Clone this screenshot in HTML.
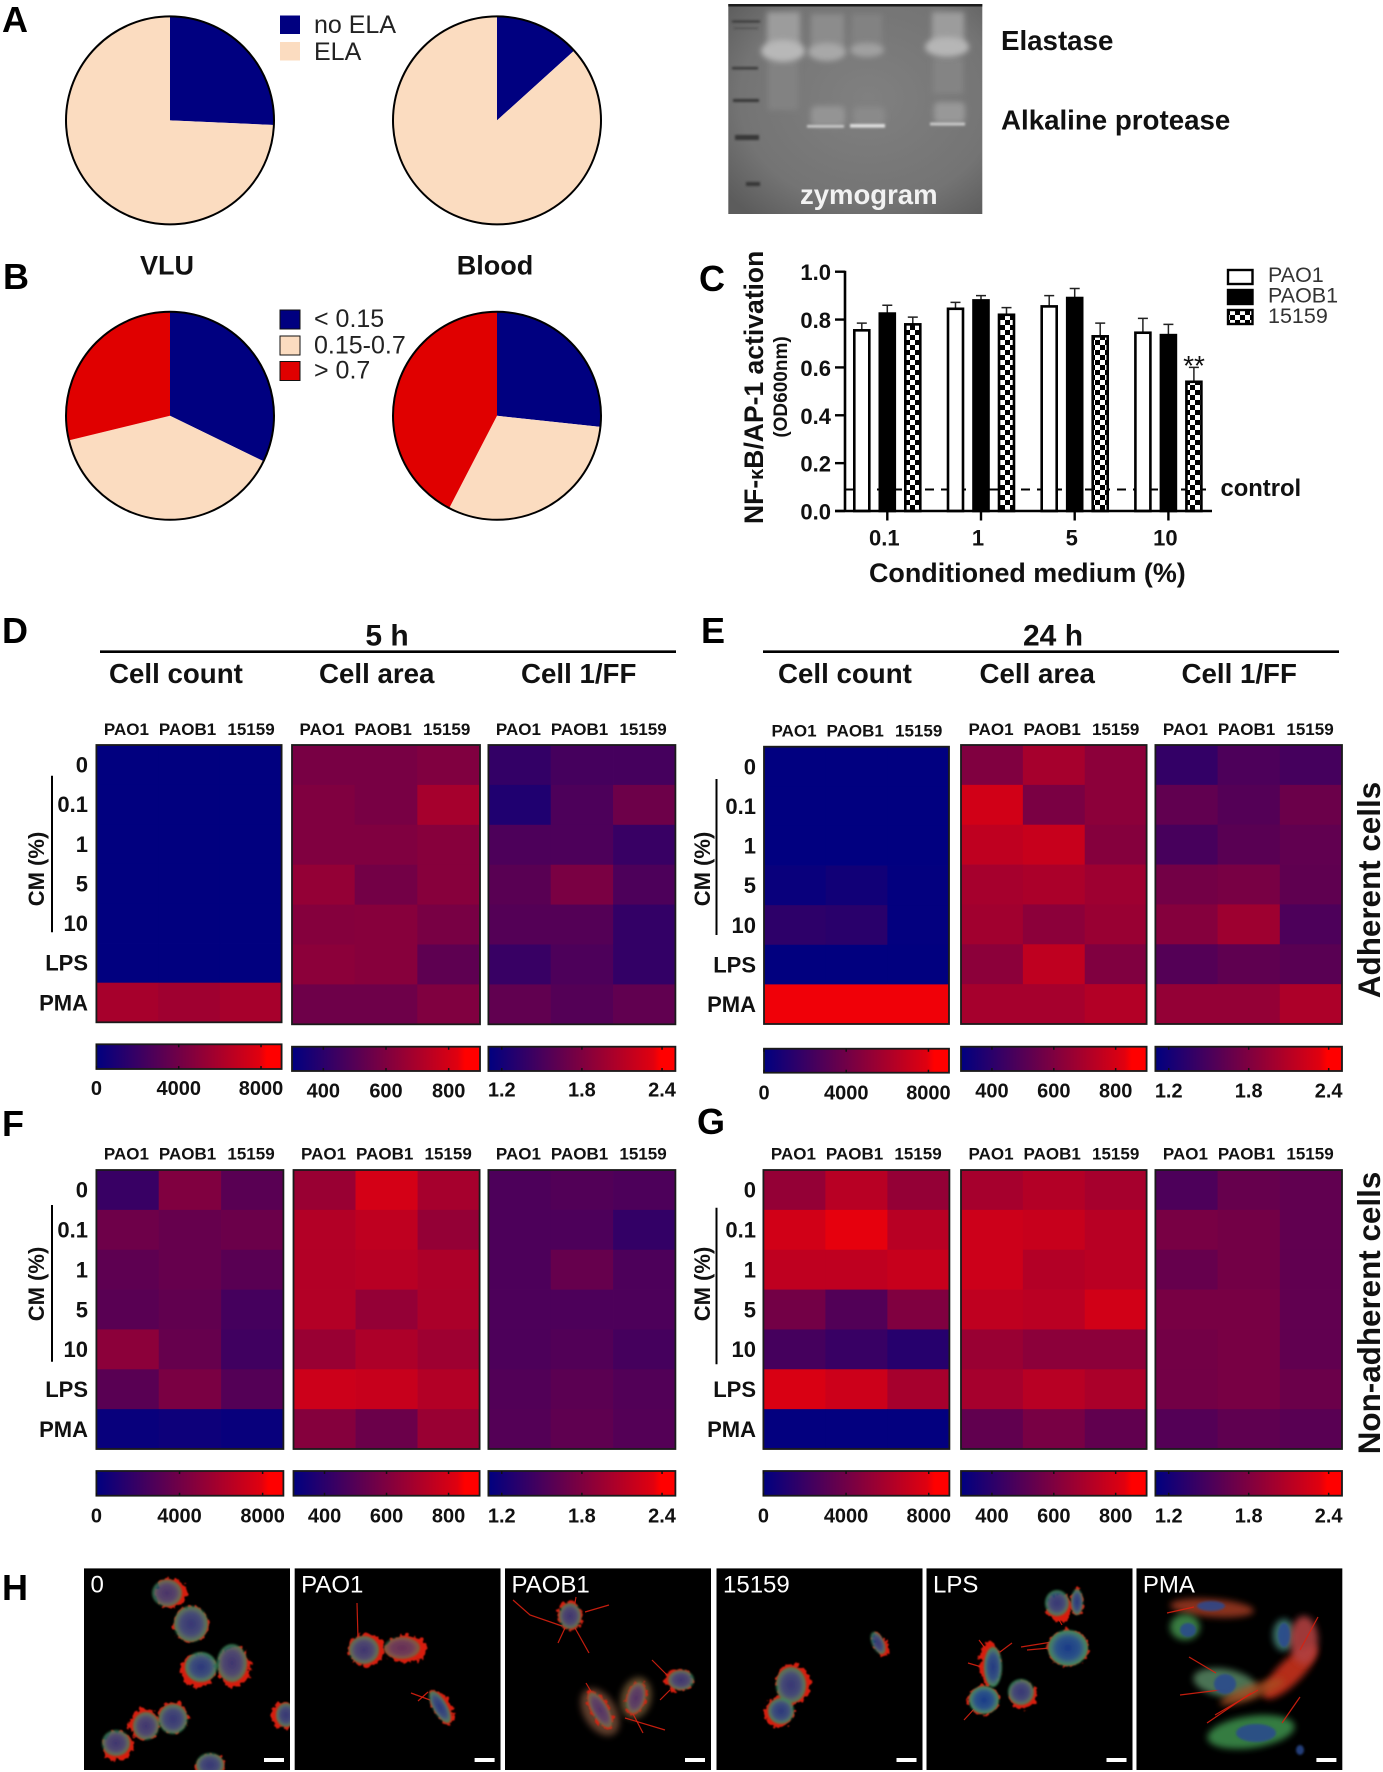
<!DOCTYPE html>
<html lang="en">
<head>
<meta charset="utf-8">
<title>Multi-panel figure: elastase, NF-κB activation, heatmaps and microscopy</title>
<style>
html,body{margin:0;padding:0;background:#fff}
svg{display:block}
text{font-family:"Liberation Sans",Arial,sans-serif;fill:#111}
.b{font-weight:bold}
.letter{font-weight:bold;font-size:36px;fill:#000}
.head{font-weight:bold;font-size:27.7px;fill:#111}
.leg{font-size:25px;fill:#222}
</style>
</head>
<body>
<svg id="fig" xmlns="http://www.w3.org/2000/svg" width="1383" height="1772" viewBox="0 0 1383 1772">
<defs>
  <pattern id="checker" width="10" height="10" patternUnits="userSpaceOnUse">
    <rect width="10" height="10" fill="#000"/>
    <rect width="5" height="5" fill="#fff"/>
    <rect x="5" y="5" width="5" height="5" fill="#fff"/>
  </pattern>
  <linearGradient id="cmap">
    <stop offset="0" stop-color="#000080"/>
    <stop offset="0.5" stop-color="#7f0040"/>
    <stop offset="0.88" stop-color="#e0000f"/>
    <stop offset="0.92" stop-color="#ff0000"/>
    <stop offset="1" stop-color="#ff0000"/>
  </linearGradient>
  <radialGradient id="gelVignette" cx="55%" cy="45%" r="72%">
    <stop offset="0" stop-color="#808080"/>
    <stop offset="0.7" stop-color="#747474"/>
    <stop offset="1" stop-color="#5c5c5c"/>
  </radialGradient>
  <radialGradient id="cellBody">
    <stop offset="0" stop-color="#1a3a88"/>
    <stop offset="0.6" stop-color="#2c5488"/>
    <stop offset="0.84" stop-color="#45786e"/>
    <stop offset="1" stop-color="#3a8f50"/>
  </radialGradient>
  <filter id="blur6" x="-50%" y="-50%" width="200%" height="200%"><feGaussianBlur stdDeviation="5"/></filter>
  <filter id="blur3" x="-50%" y="-50%" width="200%" height="200%"><feGaussianBlur stdDeviation="3"/></filter>
  <filter id="blur1" x="-20%" y="-300%" width="140%" height="700%"><feGaussianBlur stdDeviation="1.1"/></filter>
  <filter id="soft" x="-30%" y="-30%" width="160%" height="160%"><feGaussianBlur stdDeviation="1"/></filter>
  <filter id="diffuse" x="-50%" y="-80%" width="200%" height="260%"><feGaussianBlur stdDeviation="3.5"/></filter>
  <filter id="rough" x="-60%" y="-60%" width="220%" height="220%">
    <feTurbulence type="fractalNoise" baseFrequency="0.2" numOctaves="2" seed="4" result="n"/>
    <feDisplacementMap in="SourceGraphic" in2="n" scale="10" xChannelSelector="R" yChannelSelector="G"/>
    <feGaussianBlur stdDeviation="0.7"/>
  </filter>
</defs>
<rect width="1383" height="1772" fill="#fff"/>

<text class="letter" x="2" y="32">A</text>
<text class="letter" x="3" y="289">B</text>
<text class="letter" x="699" y="291">C</text>
<text class="letter" x="2" y="643">D</text>
<text class="letter" x="701" y="643">E</text>
<text class="letter" x="2" y="1136">F</text>
<text class="letter" x="697" y="1134">G</text>
<text class="letter" x="2" y="1600">H</text>

<g>
  <rect x="280" y="15.5" width="20" height="18.5" fill="#000080"/>
  <rect x="280" y="42" width="20" height="18.5" fill="#fbdcc0"/>
  <text class="leg" x="314" y="33">no ELA</text>
  <text class="leg" x="314" y="60">ELA</text>
</g>
<g>
  <rect x="280" y="310" width="20" height="19" fill="#000080" stroke="#111" stroke-width="1"/>
  <rect x="280" y="336" width="20" height="19" fill="#fbdcc0" stroke="#111" stroke-width="1"/>
  <rect x="280" y="361.5" width="20" height="19" fill="#e00000" stroke="#111" stroke-width="1"/>
  <text class="leg" x="314" y="327">&lt; 0.15</text>
  <text class="leg" x="314" y="353.5">0.15-0.7</text>
  <text class="leg" x="314" y="378.5">&gt; 0.7</text>
</g>
<text class="b" font-size="27" x="167" y="274.5" text-anchor="middle">VLU</text>
<text class="b" font-size="27" x="495" y="274.5" text-anchor="middle">Blood</text>

<g id="pies"></g>

<g>
  <rect x="728.3" y="4" width="254" height="210" fill="url(#gelVignette)"/>
  <rect x="728.3" y="4" width="254" height="2.5" fill="#1c1c1c"/>
  <rect x="767" y="12" width="33" height="36" fill="#9c9c9c" filter="url(#blur3)"/>
  <rect x="811" y="14" width="33" height="36" fill="#8c8c8c" filter="url(#blur3)"/>
  <rect x="852" y="14" width="30" height="36" fill="#828282" filter="url(#blur3)"/>
  <rect x="932" y="12" width="32" height="34" fill="#9c9c9c" filter="url(#blur3)"/>
  <rect x="768" y="60" width="30" height="50" fill="#828282" filter="url(#blur3)"/>
  <rect x="933" y="58" width="30" height="36" fill="#848484" filter="url(#blur3)"/>
  <ellipse cx="783" cy="51" rx="22" ry="11" fill="#b8b8b8" filter="url(#blur3)"/>
  <ellipse cx="827" cy="52" rx="19" ry="9" fill="#a8a8a8" filter="url(#blur3)"/>
  <ellipse cx="867" cy="50" rx="17" ry="7" fill="#a0a0a0" filter="url(#blur3)"/>
  <ellipse cx="947" cy="47" rx="22" ry="10" fill="#b6b6b6" filter="url(#blur3)"/>
  <rect x="811" y="106" width="34" height="20" rx="5" fill="#949494" filter="url(#blur3)"/>
  <rect x="853" y="107" width="32" height="18" rx="5" fill="#8a8a8a" filter="url(#blur3)"/>
  <rect x="934" y="102" width="31" height="21" rx="5" fill="#989898" filter="url(#blur3)"/>
  <rect x="807" y="125" width="37" height="2.6" fill="#cccccc" filter="url(#blur1)"/>
  <rect x="850" y="124" width="35" height="3.6" fill="#dedede" filter="url(#blur1)"/>
  <rect x="930" y="122.5" width="35" height="3" fill="#c8c8c8" filter="url(#blur1)"/>
  <g fill="#383838" filter="url(#blur1)">
    <rect x="732" y="20.5" width="28" height="2"/>
    <rect x="734" y="27.5" width="24" height="1.5" opacity=".5"/>
    <rect x="732" y="67" width="26" height="2.4"/>
    <rect x="733" y="99" width="26" height="3"/>
    <rect x="735" y="135" width="24" height="5"/>
    <rect x="746" y="182" width="14" height="4"/>
  </g>
  <text class="b" font-size="27.5" x="800" y="204" style="fill:#f2f2f2">zymogram</text>
</g>
<text class="head" x="1001" y="50">Elastase</text>
<text class="head" x="1001" y="129.5">Alkaline protease</text>

<g id="barchart">
  <text class="b" font-size="26.5" transform="translate(763,524) rotate(-90)">NF-<tspan font-size="20">κ</tspan>B/AP-1 activation</text>
  <text class="b" font-size="19" text-anchor="middle" transform="translate(787,387) rotate(-90)">(OD600nm)</text>
  <text class="b" font-size="26.9" x="869" y="582">Conditioned medium (%)</text>
  <text class="b" font-size="23.8" x="1220.5" y="496">control</text>
  <text font-size="28" x="1194" y="375" text-anchor="middle">**</text>
</g>

<line x1="100" x2="676" y1="651.7" y2="651.7" stroke="#000" stroke-width="2.6"/>
<line x1="763" x2="1339" y1="651.7" y2="651.7" stroke="#000" stroke-width="2.6"/>
<text class="b" font-size="30" x="387" y="645.5" text-anchor="middle">5 h</text>
<text class="b" font-size="30" x="1053" y="645.5" text-anchor="middle">24 h</text>
<text class="head" x="109" y="683">Cell count</text>
<text class="head" x="319" y="683">Cell area</text>
<text class="head" x="521" y="683">Cell 1/FF</text>
<text class="head" x="778" y="683">Cell count</text>
<text class="head" x="979.5" y="683">Cell area</text>
<text class="head" x="1181.5" y="683">Cell 1/FF</text>
<text class="b" font-size="31.4" text-anchor="middle" transform="translate(1380,890) rotate(-90)">Adherent cells</text>
<text class="b" font-size="31.4" text-anchor="middle" transform="translate(1380,1313) rotate(-90)">Non-adherent cells</text>

<g id="heatmaps"></g>
<g id="micro"></g>

<script>
var NS = 'http://www.w3.org/2000/svg';

/* ---------- pie data (percent) ---------- */
var pieElaVlu = [25.7, 74.3];
var pieElaBlood = [13.3, 86.7];
var pieRatioVlu = [32.2, 39, 28.8];
var pieRatioBlood = [26.7, 30.9, 42.4];

/* ---------- bar chart data ---------- */
var barCategories = ['0.1', '1', '5', '10'];
var barSeriesNames = ['PAO1', 'PAOB1', '15159'];
var barPAO1 = [0.755, 0.845, 0.855, 0.745];
var barPAOB1 = [0.825, 0.88, 0.89, 0.735];
var bar15159 = [0.78, 0.82, 0.73, 0.54];
var errPAO1 = [0.03, 0.027, 0.045, 0.06];
var errPAOB1 = [0.035, 0.02, 0.04, 0.045];
var err15159 = [0.03, 0.03, 0.055, 0.06];
var barTicks = ['0.0', '0.2', '0.4', '0.6', '0.8', '1.0'];
var controlLevel = 0.09;

/* ---------- heatmap data ---------- */
var rowLabels = ['0', '0.1', '1', '5', '10', 'LPS', 'PMA'];
var columnLabels = ['PAO1', 'PAOB1', '15159'];
var countDomain = [0, 9000];
var areaDomain = [300, 900];
var ffDomain = [1.1, 2.5];
var countTicks = [0, 4000, 8000];
var areaTicks = [400, 600, 800];
var ffTicks = ['1.2', '1.8', '2.4'];

var countAdh5h = [[50,50,50],[50,50,50],[50,50,50],[50,50,50],[50,50,50],[50,50,50],[5900,5600,5900]];
var areaAdh5h = [[582,582,600],[600,582,690],[600,600,618],[648,570,618],[612,618,582],[630,618,522],[558,558,600]];
var ffAdh5h = [[1.38,1.48,1.48],[1.27,1.52,1.70],[1.52,1.52,1.41],[1.59,1.77,1.52],[1.56,1.56,1.38],[1.41,1.52,1.38],[1.63,1.56,1.63]];

var countAdh24h = [[30,30,30],[30,30,30],[30,30,30],[300,600,100],[1600,1450,100],[50,50,50],[8460,8460,8460]];
var areaAdh24h = [[600,690,630],[792,588,630],[750,768,612],[690,702,672],[678,630,660],[630,750,600],[690,690,720]];
var ffAdh24h = [[1.38,1.52,1.48],[1.63,1.56,1.69],[1.49,1.59,1.63],[1.73,1.76,1.62],[1.83,1.97,1.52],[1.56,1.62,1.59],[1.91,1.91,2.05]];

var countNon5h = [[1980,4500,3150],[3870,3600,3780],[3330,3600,3150],[3150,3420,2430],[4950,3600,2250],[3150,4320,2970],[270,450,270]];
var areaNon5h = [[660,798,690],[720,750,648],[720,732,708],[720,648,702],[660,708,672],[780,768,720],[612,552,660]];
var ffNon5h = [[1.52,1.55,1.52],[1.52,1.52,1.38],[1.52,1.66,1.52],[1.52,1.52,1.52],[1.52,1.55,1.48],[1.55,1.60,1.55],[1.56,1.62,1.56]];

var countNon24h = [[5220,6480,5220],[7380,8100,6480],[6750,6750,7020],[4050,2880,4500],[2430,1980,1350],[7650,7200,5850],[90,90,90]];
var areaNon24h = [[690,720,690],[780,768,732],[780,720,738],[750,738,792],[660,630,630],[690,732,702],[528,582,528]];
var ffNon24h = [[1.52,1.66,1.63],[1.76,1.73,1.63],[1.66,1.73,1.63],[1.76,1.76,1.63],[1.73,1.76,1.63],[1.73,1.76,1.69],[1.56,1.62,1.59]];

/* ---------- helpers ---------- */
function mk(tag, attrs, parent) {
  var e = document.createElementNS(NS, tag);
  for (var k in attrs) e.setAttribute(k, attrs[k]);
  parent.appendChild(e);
  return e;
}

/* ---------- pies ---------- */
function drawPie(parent, name, cx, cy, r, values, colors) {
  var total = values.reduce(function (a, b) { return a + b; }, 0);
  var a0 = 0;
  values.forEach(function (v, i) {
    var a1 = a0 + v / total * 2 * Math.PI;
    var large = (a1 - a0) > Math.PI ? 1 : 0;
    var d = 'M' + cx + ' ' + cy +
      'L' + (cx + r * Math.sin(a0)) + ' ' + (cy - r * Math.cos(a0)) +
      'A' + r + ' ' + r + ' 0 ' + large + ' 1 ' + (cx + r * Math.sin(a1)) + ' ' + (cy - r * Math.cos(a1)) + 'Z';
    var s = mk('path', { d: d, fill: colors[i] }, parent);
    
    
    a0 = a1;
  });
  var o = mk('circle', { cx: cx, cy: cy, r: r, fill: 'none', stroke: '#000', 'stroke-width': 2 }, parent);
  
  
}
var piesG = document.getElementById('pies');
var cNavy = '#000080', cPeach = '#fbdcc0', cRed = '#e00000';
drawPie(piesG, 'pie-ela-vlu', 170, 120.4, 104, pieElaVlu, [cNavy, cPeach]);
drawPie(piesG, 'pie-ela-blood', 497, 120.4, 104, pieElaBlood, [cNavy, cPeach]);
drawPie(piesG, 'pie-ratio-vlu', 170, 415.8, 104, pieRatioVlu, [cNavy, cPeach, cRed]);
drawPie(piesG, 'pie-ratio-blood', 497, 415.8, 104, pieRatioBlood, [cNavy, cPeach, cRed]);

/* ---------- bar chart ---------- */
(function () {
  var g = document.getElementById('barchart');
  var yScale = function (v) { return 511 - v * 239.3; };
  var xGroup = function (i) { return 887.3 + i * 93.7; };
  var offset = 25.5, barW = 15;
  var series = [
    { name: 'pao1', vals: barPAO1, errs: errPAO1, fill: '#fff' },
    { name: 'paob1', vals: barPAOB1, errs: errPAOB1, fill: '#000' },
    { name: '15159', vals: bar15159, errs: err15159, fill: 'url(#checker)' }
  ];
  var dash = mk('line', { x1: 845, x2: 1206, y1: yScale(controlLevel), y2: yScale(controlLevel), stroke: '#000', 'stroke-width': 2, 'stroke-dasharray': '9 7' }, g);
  
  

  series.forEach(function (s, si) {
    s.vals.forEach(function (v, i) {
      var cx = xGroup(i) + (si - 1) * offset;
      var err = mk('path', {
        d: 'M' + cx + ' ' + yScale(v) + 'V' + yScale(v + s.errs[i]) + 'm-5 0h10',
        fill: 'none', stroke: '#222', 'stroke-width': 1.5
      }, g);
      
      
      var bar = mk('rect', {
        x: cx - barW / 2, y: yScale(v), width: barW, height: yScale(0) - yScale(v),
        fill: s.fill, stroke: '#000', 'stroke-width': 2.6
      }, g);
      
      
    });
  });

  var yAxis = mk('line', { x1: 845, x2: 845, y1: yScale(1) - 1, y2: yScale(0) + 1, stroke: '#000', 'stroke-width': 2.6 }, g);
  
  
  var xAxis = mk('line', { x1: 835, x2: 1212, y1: yScale(0), y2: yScale(0), stroke: '#000', 'stroke-width': 2.6 }, g);
  
  

  barTicks.forEach(function (t) {
    var v = parseFloat(t);
    var tk = mk('line', { x1: 835, x2: 845, y1: yScale(v), y2: yScale(v), stroke: '#000', 'stroke-width': 2.4 }, g);
    
    
    var lb = mk('text', { x: 831, y: yScale(v) + 8.5, 'text-anchor': 'end', 'font-size': 22, 'font-weight': 'bold' }, g);
    lb.textContent = t;
    
    
  });
  barCategories.forEach(function (c, i) {
    var tk = mk('line', { x1: xGroup(i), x2: xGroup(i), y1: 511, y2: 520.5, stroke: '#000', 'stroke-width': 2.4 }, g);
    
    
    var lb = mk('text', { x: xGroup(i) - 3, y: 545.5, 'text-anchor': 'middle', 'font-size': 22, 'font-weight': 'bold' }, g);
    lb.textContent = c;
    
    
  });

  var legFills = ['#fff', '#000', 'url(#checker)'];
  barSeriesNames.forEach(function (n, i) {
    var sw = mk('rect', { x: 1228, y: 270 + i * 20, width: 24.5, height: 14, fill: legFills[i], stroke: '#000', 'stroke-width': 2.4 }, g);
    
    
    var lb = mk('text', { x: 1268, y: 282 + i * 20.4, 'font-size': 21.5 }, g);
    lb.textContent = n;
    
    
    lb.style.fill = '#333';
  });
})();

/* ---------- heatmaps ---------- */
function heatColor(t) {
  t = Math.max(0, Math.min(1, t));
  return 'rgb(' + Math.round(255 * t) + ',0,' + Math.round(128 * (1 - t)) + ')';
}
function drawHeatmap(o) {
  var parent = document.getElementById('heatmaps');
  var g = mk('g', {}, parent);
  
  
  var dom = o.domain;
  var rows = o.values.length, cols = o.values[0].length;
  var cw = o.w / cols, ch = o.h / rows;
  o.values.forEach(function (row, r) {
    row.forEach(function (v, c) {
      var cell = mk('rect', {
        x: o.x + c * cw, y: o.y + r * ch, width: cw + 0.4, height: ch + 0.4,
        fill: heatColor((v - dom[0]) / (dom[1] - dom[0]))
      }, g);
      
      
    });
  });
  var frame = mk('rect', { x: o.x, y: o.y, width: o.w, height: o.h, fill: 'none', stroke: '#1a1a1a', 'stroke-width': 1.8 }, g);
  
  

  var colOff = [7.5, 62.5, 131];
  columnLabels.forEach(function (lab, i) {
    var t = mk('text', { x: o.x + colOff[i], y: o.headY, 'font-size': 17, 'font-weight': 'bold' }, g);
    t.textContent = lab;
    
    
  });

  /* colour bar */
  var bar = mk('rect', { x: o.x, y: o.barY, width: o.w, height: o.barH, fill: 'url(#cmap)', stroke: '#1a1a1a', 'stroke-width': 1.8 }, g);
  
  
  o.ticks.forEach(function (tv) {
    var px = o.x + (parseFloat(tv) - dom[0]) / (dom[1] - dom[0]) * o.w;
    var tk = mk('path', { d: 'M' + px + ' ' + o.barY + 'v3M' + px + ' ' + (o.barY + o.barH) + 'v-3', stroke: '#111', 'stroke-width': 1.5 }, g);
    
    
    var lb = mk('text', { x: px, y: o.tickY, 'text-anchor': 'middle', 'font-size': 20, 'font-weight': 'bold' }, g);
    lb.textContent = tv;
    
    
  });
}
function drawRowLabels(x, top, h, lineX, lineTop, lineBottom, cmX, cmY) {
  var parent = document.getElementById('heatmaps');
  var g = mk('g', {}, parent);
  
  
  rowLabels.forEach(function (lab, r) {
    var t = mk('text', { x: x, y: top + (r + 0.5) * h / rowLabels.length + 7.8, 'text-anchor': 'end', 'font-size': 22, 'font-weight': 'bold' }, g);
    t.textContent = lab;
    
    
  });
  var l = mk('line', { x1: lineX, x2: lineX, y1: lineTop, y2: lineBottom, stroke: '#000', 'stroke-width': 2 }, g);
  
  
  var cm = mk('text', { 'text-anchor': 'middle', 'font-size': 22, 'font-weight': 'bold', transform: 'translate(' + cmX + ',' + cmY + ') rotate(-90)' }, g);
  cm.textContent = 'CM (%)';
  
  
}

/* panel D */
drawHeatmap({ name: 'd-count', x: 96.4, y: 745, w: 185.2, h: 277.3, values: countAdh5h, domain: countDomain, ticks: countTicks, headY: 735, barY: 1044.3, barH: 24.7, tickY: 1095 });
drawHeatmap({ name: 'd-area', x: 292, y: 745, w: 188, h: 279.3, values: areaAdh5h, domain: areaDomain, ticks: areaTicks, headY: 735, barY: 1046.7, barH: 24.3, tickY: 1097.3 });
drawHeatmap({ name: 'd-ff', x: 488.4, y: 745, w: 187, h: 279.3, values: ffAdh5h, domain: ffDomain, ticks: ffTicks, headY: 735, barY: 1046.7, barH: 24.3, tickY: 1096.7 });
drawRowLabels(88, 745, 277.3, 52, 775.7, 932.3, 44, 869);
/* panel E */
drawHeatmap({ name: 'e-count', x: 764, y: 746.7, w: 185, h: 277.3, values: countAdh24h, domain: countDomain, ticks: countTicks, headY: 736.7, barY: 1048.7, barH: 24, tickY: 1099.3 });
drawHeatmap({ name: 'e-area', x: 961, y: 745, w: 185.6, h: 279, values: areaAdh24h, domain: areaDomain, ticks: areaTicks, headY: 735, barY: 1046.7, barH: 24.3, tickY: 1097.3 });
drawHeatmap({ name: 'e-ff', x: 1155.4, y: 745, w: 186.6, h: 279, values: ffAdh24h, domain: ffDomain, ticks: ffTicks, headY: 735, barY: 1046.7, barH: 24.3, tickY: 1097.3 });
drawRowLabels(756, 746.7, 277.3, 716.5, 779, 935, 710, 869);
/* panel F */
drawHeatmap({ name: 'f-count', x: 96.4, y: 1170, w: 187, h: 279, values: countNon5h, domain: countDomain, ticks: countTicks, headY: 1159.3, barY: 1471, barH: 24.7, tickY: 1522.3 });
drawHeatmap({ name: 'f-area', x: 293.5, y: 1170, w: 186.1, h: 279, values: areaNon5h, domain: areaDomain, ticks: areaTicks, headY: 1159.3, barY: 1471, barH: 24.7, tickY: 1522.3 });
drawHeatmap({ name: 'f-ff', x: 488.4, y: 1170, w: 187, h: 279, values: ffNon5h, domain: ffDomain, ticks: ffTicks, headY: 1159.3, barY: 1471, barH: 24.7, tickY: 1522.3 });
drawRowLabels(88, 1170, 279, 52, 1205, 1361.7, 44, 1284);
/* panel G */
drawHeatmap({ name: 'g-count', x: 763.4, y: 1170, w: 186, h: 279, values: countNon24h, domain: countDomain, ticks: countTicks, headY: 1159.3, barY: 1471, barH: 24.7, tickY: 1522.3 });
drawHeatmap({ name: 'g-area', x: 961, y: 1170, w: 185.6, h: 279, values: areaNon24h, domain: areaDomain, ticks: areaTicks, headY: 1159.3, barY: 1471, barH: 24.7, tickY: 1522.3 });
drawHeatmap({ name: 'g-ff', x: 1155.4, y: 1170, w: 186.6, h: 279, values: ffNon24h, domain: ffDomain, ticks: ffTicks, headY: 1159.3, barY: 1471, barH: 24.7, tickY: 1522.3 });
drawRowLabels(756, 1170, 279, 716.5, 1207.7, 1364.3, 710, 1284);

/* ---------- microscopy illustration (not chart data) ---------- */
var microTitles = ['0', 'PAO1', 'PAOB1', '15159', 'LPS', 'PMA'];
var microLefts = [84, 294.6, 505, 716.5, 926.5, 1136.4];
/* panel, cx, cy, rx, ry, rotation, red amount, red offset x, red offset y, dimness */
var microCells = [
  [0,167,1593,15,13.5,0,.35,4,0,.75],[0,191,1624,17,18,0,.12,0,0,.85],[0,201,1667,16,15,0,.5,-3,4,.9],[0,232,1663,15,19,0,.45,2,4,.8],
  [0,173,1719,14.5,15,0,.25,0,-2,.85],[0,146,1726,13,14,0,.6,-2,-2,.8],[0,116,1743,14,13,0,.5,2,3,.8],[0,210,1765,14,12,0,.3,0,2,.85],[0,286,1715,10,12,0,.6,-3,0,.85],
  [1,364,1650,15,14,0,.9,2,0,.8],[1,402,1648,18,11,0,1,4,1,.6],[1,440,1707,7,18,-30,.55,2,2,.9],
  [2,570,1616,11,13,0,.4,0,0,.8],[2,600,1710,8,20,-30,.4,0,0,.7],[2,636,1698,9,16,15,.3,0,0,.7],[2,681,1680,13,10,0,.4,-3,0,.8],
  [3,878,1643,6,12,-25,.1,2,3,.85],[3,791,1685,15,18,0,.8,2,-1,.85],[3,781,1711,13,13,0,.7,-2,1,.9],
  [4,1057,1603,12,13,0,.25,2,5,.85],[4,1077,1602,6,13,0,.05,0,0,.9],[4,1068,1648,20,18,0,.05,0,0,1],[4,993,1667,9,20,0,.55,-3,-3,.95],[4,1021,1692,13,13,0,.3,2,3,.85],[4,984,1700,15,14,0,.1,0,0,1]
];
/* panel, cx, cy, rx, ry, rotation, colour, opacity */
var microHaze = [
  [5,1212,1608,42,9,4,'#a03a20',.85],[5,1185,1627,15,13,0,'#3f8a4a',.9],[5,1284,1635,11,16,0,'#3f7a70',.95],
  [5,1225,1683,32,14,10,'#507a5a',.95],[5,1251,1732,44,16,-8,'#3a8a48',.9],[5,1290,1672,36,12,-45,'#c8301a',.9],
  [5,1304,1640,14,24,0,'#b04040',.9],[5,1252,1692,34,7,-20,'#a85020',.8],[2,600,1712,16,26,-32,'#8a5a40',.7],[2,636,1698,15,21,15,'#8a6a40',.7]
];
var microBlue = [
  [5,1211,1606,14,5],[5,1188,1630,8,7],[5,1225,1684,11,10],[5,1256,1733,20,9],[5,1284,1635,6,12],[5,1300,1750,4,5]
];
/* panel, path of a red actin filament */
var microFilaments = [
  [1,'M357 1603L358 1638'],[1,'M411 1693L430 1700'],[1,'M418 1701L428 1692'],
  [2,'M513 1600L530 1615L562 1626'],[2,'M609 1605L585 1612'],[2,'M589 1653L575 1628'],[2,'M558 1643L565 1628'],[2,'M576 1597L574 1608'],
  [2,'M586 1683L596 1700'],[2,'M665 1730L625 1718'],[2,'M643 1733L632 1712'],[2,'M652 1660L672 1680'],[2,'M660 1700L670 1690'],
  [4,'M968 1663L985 1668'],[4,'M979 1640L988 1652'],[4,'M1012 1643L1000 1652'],[4,'M1021 1647L1052 1642'],[4,'M1027 1650L1050 1648'],[4,'M964 1720L975 1708'],[4,'M1058 1618L1062 1625'],
  [5,'M1207 1723L1251 1693'],[5,'M1215 1715L1258 1690'],[5,'M1180 1695L1220 1690'],[5,'M1167 1613L1194 1607'],[5,'M1189 1657L1216 1673'],[5,'M1318 1617L1300 1650'],[5,'M1300 1697L1282 1723']
];
(function () {
  var root = document.getElementById('micro');
  var defs = document.querySelector('svg defs');
  var w = 206;
  microLefts.forEach(function (x, i) {
    var clip = mk('clipPath', { id: 'microClip' + i }, defs);
    mk('rect', { x: x, y: 1568.3, width: w, height: 201.7 }, clip);
    var g = mk('g', { 'clip-path': 'url(#microClip' + i + ')' }, root);
    
    
    mk('rect', { x: x, y: 1568.3, width: w, height: 201.7, fill: '#000' }, g);
    microHaze.forEach(function (h) {
      if (h[0] !== i) return;
      mk('ellipse', { cx: h[1], cy: h[2], rx: h[3], ry: h[4], fill: h[6], opacity: h[7], filter: 'url(#diffuse)', transform: 'rotate(' + h[5] + ' ' + h[1] + ' ' + h[2] + ')' }, g);
    });
    var red = mk('g', { filter: 'url(#rough)' }, g);
    microFilaments.forEach(function (f) {
      if (f[0] !== i) return;
      mk('path', { d: f[1], fill: 'none', stroke: '#d8200f', 'stroke-width': 1.2, opacity: .9 }, g);
    });
    var body = mk('g', { filter: 'url(#soft)' }, g);
    microCells.forEach(function (c) {
      if (c[0] !== i) return;
      var tr = 'rotate(' + c[5] + ' ' + c[1] + ' ' + c[2] + ')';
      var k = c[6];
      mk('ellipse', { cx: c[1] + c[7], cy: c[2] + c[8], rx: c[3] + 3 * k, ry: c[4] + 3 * k, fill: '#d81f0e', transform: tr }, red);
      mk('ellipse', { cx: c[1], cy: c[2], rx: c[3], ry: c[4], fill: 'url(#cellBody)', opacity: c[9], transform: tr }, body);
    });
    microBlue.forEach(function (b) {
      if (b[0] !== i) return;
      mk('ellipse', { cx: b[1], cy: b[2], rx: b[3], ry: b[4], fill: '#2a4a90', opacity: .85, filter: 'url(#soft)' }, g);
    });
    var bar = mk('rect', { x: x + w - 26, y: 1758, width: 20, height: 4, fill: '#fff' }, g);
    
    
    var t = mk('text', { x: x + 6.5, y: 1592.5, 'font-size': 24 }, g);
    t.textContent = microTitles[i];
    t.style.fill = '#fff';
    
    
  });
})();
</script>
</svg>
</body>
</html>
